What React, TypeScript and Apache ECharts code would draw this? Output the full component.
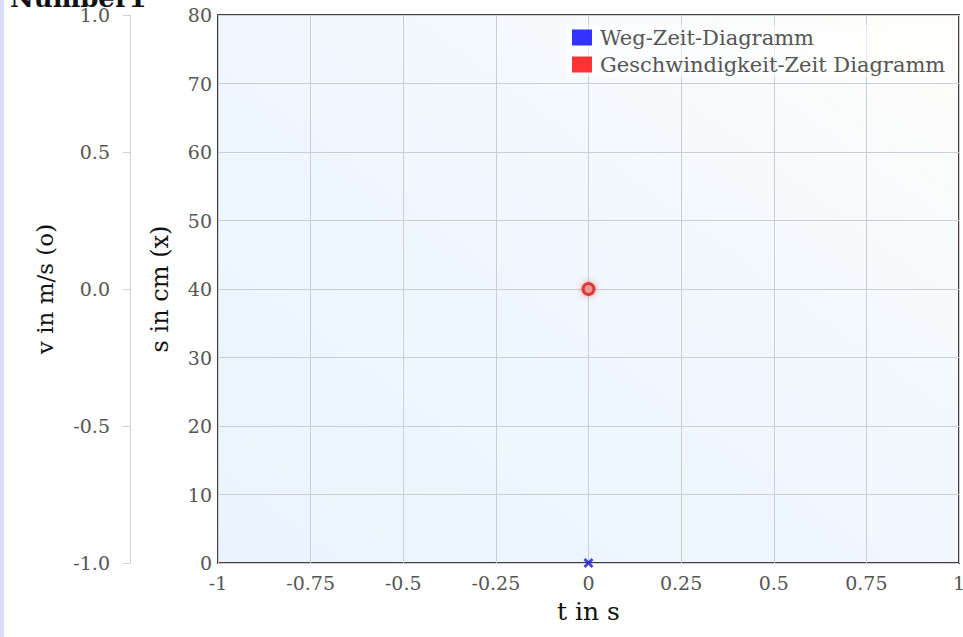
import React, { useEffect, useRef } from "react";
import * as echarts from "echarts";

const titleText = "Number1";
const seriesNames = ["Weg-Zeit-Diagramm", "Geschwindigkeit-Zeit Diagramm"];
// Weg-Zeit: [t in s, s in cm]
const wegData: number[][] = [[0, 0]];
// Geschwindigkeit-Zeit: [t in s, v in m/s]
const geschwData: number[][] = [[0, 0]];
const xMin = -1, xMax = 1, xInterval = 0.25;
const sMin = 0, sMax = 80, sInterval = 10;
const vMin = -1, vMax = 1, vInterval = 0.5;

const FONT = "DejaVu Serif";
const crossPath =
  "path://M2,0 L5,3 L8,0 L10,2 L7,5 L10,8 L8,10 L5,7 L2,10 L0,8 L3,5 L0,2 Z";

export default function App() {
  const ref = useRef<HTMLDivElement>(null);
  useEffect(() => {
    if (!ref.current) return;
    const chart = echarts.init(ref.current, undefined, { renderer: "svg" });
    chart.setOption({
      animation: false,
      textStyle: { fontFamily: FONT },
      graphic: [
        { type: "rect", left: 0, top: 0, shape: { x: 0, y: 0, width: 4, height: 637 }, style: { fill: "#dcdcfa" } },
        {
          type: "text",
          x: 10,
          y: 11,
          style: { text: titleText, font: `bold 26px "${FONT}"`, fill: "#111", verticalAlign: "bottom" },
        },
      ],
      legend: {
        orient: "vertical",
        left: 566,
        top: 25,
        icon: "rect",
        itemWidth: 20,
        itemHeight: 16,
        itemGap: 6,
        padding: [2, 6, 2, 6],
        backgroundColor: "rgba(255,255,255,0.55)",
        textStyle: { fontFamily: FONT, fontSize: 21, color: "#555", padding: [0, 0, 0, 3] },
        data: [
          { name: seriesNames[0], itemStyle: { color: "#0000ff", borderWidth: 0 } },
          { name: seriesNames[1], itemStyle: { color: "#ff0000", borderWidth: 0 } },
        ],
      },
      grid: {
        left: 218,
        width: 741,
        top: 15,
        height: 548,
        outerBoundsMode: "none",
        containLabel: false,
        show: true,
        borderColor: "#4a3c36",
        borderWidth: 2,
        backgroundColor: new echarts.graphic.LinearGradient(1, 0, 0, 1, [
          { offset: 0, color: "#fffefa" },
          { offset: 0.4, color: "#f2f8fe" },
          { offset: 1, color: "#e9f4fe" },
        ]),
      },
      xAxis: {
        type: "value",
        min: xMin,
        max: xMax,
        interval: xInterval,
        name: "t in s",
        nameLocation: "middle",
        nameGap: 36,
        nameTextStyle: { fontFamily: FONT, fontSize: 25, color: "#111" },
        axisLine: { show: false },
        axisTick: { show: false },
        axisLabel: { fontFamily: FONT, fontSize: 19, color: "#555", margin: 10 },
        splitLine: { show: true, lineStyle: { color: "#c9ced8", width: 1 } },
      },
      yAxis: [
        {
          type: "value",
          position: "left",
          min: sMin,
          max: sMax,
          interval: sInterval,
          name: "s in cm (x)",
          nameLocation: "middle",
          nameGap: 46,
          nameTextStyle: { fontFamily: FONT, fontSize: 24, color: "#111" },
          axisLine: { show: false },
          axisTick: { show: false },
          axisLabel: { fontFamily: FONT, fontSize: 19, color: "#555", margin: 6 },
          splitLine: { show: true, lineStyle: { color: "#c9ced8", width: 1 } },
        },
        {
          type: "value",
          position: "left",
          offset: 88,
          min: vMin,
          max: vMax,
          interval: vInterval,
          name: "v in m/s (o)",
          nameLocation: "middle",
          nameGap: 74,
          nameTextStyle: { fontFamily: FONT, fontSize: 23, color: "#111" },
          axisLine: { show: true, lineStyle: { color: "#d0d0d0", width: 1 } },
          axisTick: { show: true, length: 7, lineStyle: { color: "#d0d0d0" } },
          axisLabel: {
            fontFamily: FONT,
            fontSize: 19,
            color: "#555",
            margin: 20,
            formatter: (v: number) => v.toFixed(1),
          },
          splitLine: { show: false },
        },
      ],
      series: [
        {
          name: seriesNames[0],
          type: "scatter",
          yAxisIndex: 0,
          data: wegData,
          symbol: crossPath,
          symbolSize: 10,
          itemStyle: { color: "#1818c8" },
          z: 5,
        },
        {
          name: seriesNames[1],
          type: "scatter",
          yAxisIndex: 1,
          data: geschwData,
          symbol: "circle",
          symbolSize: 11,
          itemStyle: {
            color: "#f09090",
            borderColor: "#d02020",
            borderWidth: 3,
            shadowBlur: 6,
            shadowColor: "rgba(255,0,0,0.5)",
          },
          z: 5,
        },
      ],
    });
    return () => chart.dispose();
  }, []);
  return (
    <div
      ref={ref}
      style={{ position: "absolute", left: 0, top: 0, width: 963, height: 637 }}
    />
  );
}
